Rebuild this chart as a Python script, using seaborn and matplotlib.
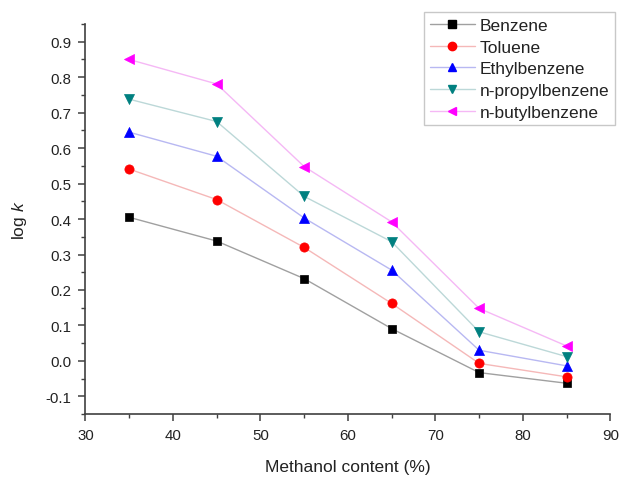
import matplotlib
matplotlib.use("Agg")
import matplotlib.pyplot as plt
import seaborn as sns
import pandas as pd
from matplotlib.lines import Line2D
from matplotlib.ticker import MultipleLocator

methanol = [35, 45, 55, 65, 75, 85]
benzene = [0.405, 0.338, 0.232, 0.091, -0.033, -0.063]
toluene = [0.541, 0.455, 0.320, 0.162, -0.007, -0.045]
ethylbenzene = [0.645, 0.577, 0.403, 0.256, 0.030, -0.014]
propylbenzene = [0.738, 0.675, 0.464, 0.336, 0.082, 0.012]
butylbenzene = [0.850, 0.781, 0.548, 0.392, 0.148, 0.042]

names = ["Benzene", "Toluene", "Ethylbenzene", "n-propylbenzene", "n-butylbenzene"]
series = [benzene, toluene, ethylbenzene, propylbenzene, butylbenzene]
marker_colors = ["#000000", "#ff0000", "#0000ff", "#008080", "#ff00ff"]
line_colors = ["#a0a0a0", "#f5b8b8", "#b8b8f2", "#bcd8d8", "#f5b8f5"]
markers = ["s", "o", "^", "v", "<"]

sns.set_style("ticks")
plt.rcParams["font.family"] = ["Liberation Sans", "DejaVu Sans"]
plt.rcParams["axes.unicode_minus"] = False
plt.rcParams["mathtext.fontset"] = "custom"
plt.rcParams["mathtext.it"] = "Liberation Sans:italic"
plt.rcParams["mathtext.rm"] = "Liberation Sans"

rows = []
for name, vals in zip(names, series):
    for x, y in zip(methanol, vals):
        rows.append({"Methanol": x, "logk": y, "Compound": name})
df = pd.DataFrame(rows)

fig = plt.figure(figsize=(6.21, 4.81), dpi=100)
ax = fig.add_axes([0.1375, 0.137, 0.8455, 0.811])

sns.lineplot(data=df, x="Methanol", y="logk", hue="Compound", hue_order=names,
             palette=line_colors, linewidth=1.0, ax=ax, legend=False, zorder=2)
sizes = {"s": 36, "o": 44, "^": 52, "v": 52, "<": 52}
for name, m, c in zip(names, markers, marker_colors):
    sub = df[df["Compound"] == name]
    sns.scatterplot(data=sub, x="Methanol", y="logk", marker=m, color=c, s=sizes[m],
                    edgecolor=c, linewidth=0.5, ax=ax, legend=False, zorder=3)

ax.set_xlim(30, 90)
ax.set_ylim(-0.15, 0.95)
ax.xaxis.set_major_locator(MultipleLocator(10))
ax.xaxis.set_minor_locator(MultipleLocator(5))
ax.yaxis.set_minor_locator(MultipleLocator(0.05))
ax.set_yticks([-0.1, 0.0, 0.1, 0.2, 0.3, 0.4, 0.5, 0.6, 0.7, 0.8, 0.9])
ax.set_yticklabels(["-0.1", "0.0", "0.1", "0.2", "0.3", "0.4", "0.5", "0.6", "0.7", "0.8", "0.9"])

for s in ["top", "right"]:
    ax.spines[s].set_visible(False)
for s in ["left", "bottom"]:
    ax.spines[s].set_color("#404040")
    ax.spines[s].set_linewidth(1.2)
ax.tick_params(axis="both", which="major", direction="out", length=5, width=1.1,
               color="#404040", labelsize=10.8, labelcolor="#222222", pad=5)
ax.tick_params(axis="both", which="minor", direction="out", length=3, width=1.0, color="#404040")

ax.set_xlabel("Methanol content (%)", fontsize=12.5, color="#222222", labelpad=12)
ax.set_ylabel("log $\\mathit{k}$", fontsize=12.5, color="#222222", labelpad=12)

handles = [Line2D([0], [0], color=lc, lw=1.0, marker=m, markersize=6,
                  markerfacecolor=mc, markeredgecolor=mc)
           for lc, mc, m in zip(line_colors, marker_colors, markers)]
leg = ax.legend(handles, names, loc="upper right", bbox_to_anchor=(0.99, 0.972),
                bbox_transform=fig.transFigure, frameon=True, fancybox=False,
                fontsize=12.5, handlelength=2.6, handletextpad=0.3,
                labelspacing=0.38, borderpad=0.3, borderaxespad=0)
leg.get_frame().set_edgecolor("#bbbbbb")
leg.get_frame().set_linewidth(1.0)
for t in leg.get_texts():
    t.set_color("#222222")

fig.savefig("out.png", dpi=100)
